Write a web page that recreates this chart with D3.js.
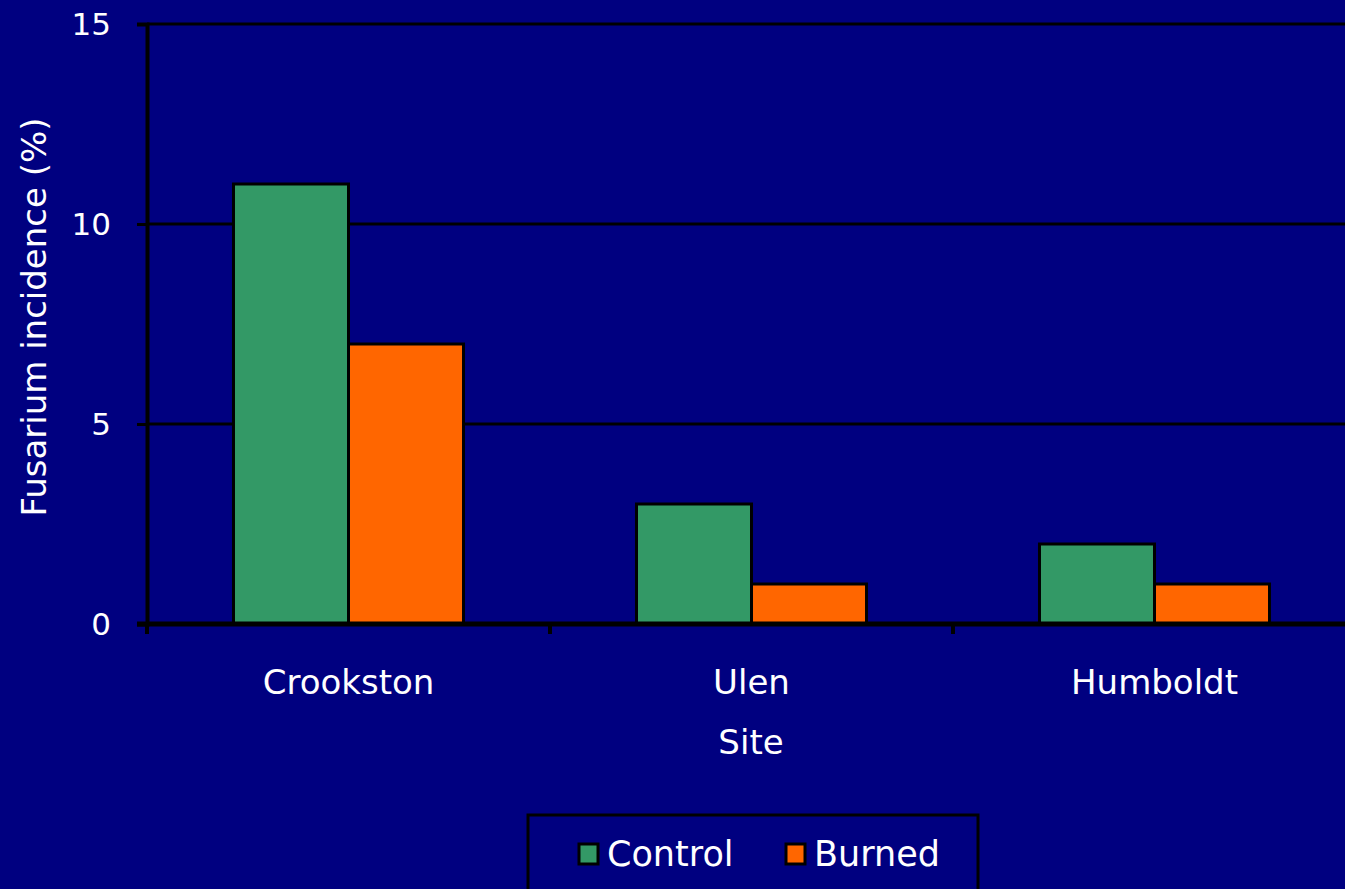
<!DOCTYPE html>
<html>
<head>
<meta charset="utf-8">
<script src="https://cdn.jsdelivr.net/npm/d3@7"></script>
<style>
  html, body { margin: 0; padding: 0; background: #000080; }
  svg { display: block; }
  text { font-family: "DejaVu Sans", Verdana, sans-serif; fill: #ffffff; }
</style>
</head>
<body>
<div id="chart"></div>
<script>
//Datos
const sites = ['Crookston', 'Ulen', 'Humboldt'];
const series = ['Control', 'Burned'];
const controlValues = [11, 3, 2];
const burnedValues = [7, 1, 1];
const yTicks = [0, 5, 10, 15];

//Colores
const COLOR_BG = '#000080',
COLOR_CONTROL = '#339966',
COLOR_BURNED = '#FF6600';

let data = sites.map(function(s, i) {
    return { site: s, Control: controlValues[i], Burned: burnedValues[i] };
});

let width = 1345, height = 889;

let svg = d3.select('#chart')
    .append('svg')
    .attr('width', width)
    .attr('height', height);

svg.append('rect')
    .attr('width', width)
    .attr('height', height)
    .attr('fill', COLOR_BG);

let x0 = d3.scaleBand()
    .domain(sites)
    .range([147, 1356])
    .padding(0);

let x1 = d3.scaleBand()
    .domain(series)
    .range([0, x0.bandwidth()])
    .paddingInner(0)
    .paddingOuter(0.752);

let y = d3.scaleLinear()
    .domain([0, 15])
    .range([624, 24]);

let color = d3.scaleOrdinal()
    .domain(series)
    .range([COLOR_CONTROL, COLOR_BURNED]);

//Rejilla
svg.append('g')
    .selectAll('line')
    .data(yTicks.filter(d => d > 0))
    .enter()
    .append('line')
    .attr('x1', 147)
    .attr('x2', width)
    .attr('y1', d => y(d))
    .attr('y2', d => y(d))
    .attr('stroke', '#000')
    .attr('stroke-width', 3);

//Barras
svg.append('g')
    .selectAll('g')
    .data(data)
    .enter()
    .append('g')
    .attr('transform', d => 'translate(' + x0(d.site) + ',0)')
    .selectAll('rect')
    .data(d => series.map(k => ({ key: k, value: d[k] })))
    .enter()
    .append('rect')
    .attr('x', d => x1(d.key))
    .attr('y', d => y(d.value))
    .attr('width', x1.bandwidth())
    .attr('height', d => y(0) - y(d.value))
    .attr('fill', d => color(d.key))
    .attr('stroke', '#000')
    .attr('stroke-width', 3);

//Eje Y
let yAxis = svg.append('g')
    .attr('transform', 'translate(147,0)')
    .call(d3.axisLeft(y).tickValues(yTicks).tickSize(10).tickPadding(26));
yAxis.select('.domain').attr('stroke', '#000').attr('stroke-width', 4);
yAxis.selectAll('.tick line').attr('stroke', '#000').attr('stroke-width', 3);
yAxis.selectAll('.tick text')
    .attr('fill', '#fff')
    .style('font-size', '31px')
    .attr('dy', '0.35em');

//Eje X
let xAxis = svg.append('g')
    .attr('transform', 'translate(0,' + y(0) + ')')
    .call(d3.axisBottom(x0).tickSize(0).tickPadding(0));
xAxis.select('.domain').remove();
xAxis.selectAll('.tick text')
    .attr('fill', '#fff')
    .attr('y', 70)
    .attr('dy', 0)
    .style('font-size', '34px');

svg.append('line')
    .attr('x1', 137)
    .attr('x2', width)
    .attr('y1', y(0))
    .attr('y2', y(0))
    .attr('stroke', '#000')
    .attr('stroke-width', 5);

svg.append('g')
    .selectAll('line')
    .data(sites)
    .enter()
    .append('line')
    .attr('x1', d => x0(d))
    .attr('x2', d => x0(d))
    .attr('y1', y(0))
    .attr('y2', y(0) + 10)
    .attr('stroke', '#000')
    .attr('stroke-width', 4);

//Títulos
svg.append('text')
    .attr('x', 751)
    .attr('y', 754)
    .attr('text-anchor', 'middle')
    .style('font-size', '34px')
    .text('Site');

svg.append('text')
    .attr('transform', 'translate(46,317) rotate(-90)')
    .attr('text-anchor', 'middle')
    .style('font-size', '34px')
    .text('Fusarium incidence (%)');

//Leyenda
let legend = svg.append('g');
legend.append('rect')
    .attr('x', 528)
    .attr('y', 815)
    .attr('width', 450)
    .attr('height', 90)
    .attr('fill', 'none')
    .attr('stroke', '#000')
    .attr('stroke-width', 3);

let legendX = [579, 786];
let items = legend.selectAll('g.item')
    .data(series)
    .enter()
    .append('g')
    .attr('class', 'item')
    .attr('transform', (d, i) => 'translate(' + legendX[i] + ',844)');

items.append('rect')
    .attr('width', 19)
    .attr('height', 20)
    .attr('fill', d => color(d))
    .attr('stroke', '#000')
    .attr('stroke-width', 3);

items.append('text')
    .attr('x', 28)
    .attr('y', 22)
    .style('font-size', '35px')
    .text(d => d);
</script>
</body>
</html>
